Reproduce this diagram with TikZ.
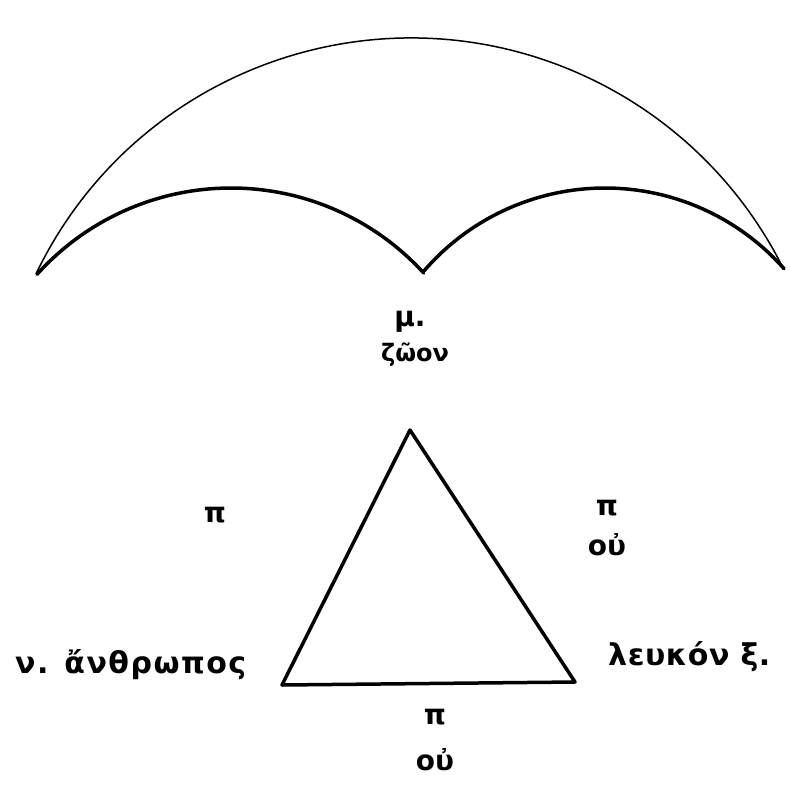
\documentclass[tikz,border=0pt]{standalone}
\usepackage{fontspec}
\setmainfont{DejaVu Sans}
\begin{document}
\begin{tikzpicture}[x=1pt,y=1pt,
  lbl/.style={inner sep=0pt,font=\bfseries\fontsize{28}{32}\selectfont},
  spaced/.style={font=\bfseries\fontsize{30}{34}\selectfont\addfontfeature{LetterSpace=#1}},
  thin arc/.style={line width=1.5pt},
  thick line/.style={line width=3.5pt,line join=round,line cap=round}]
\useasboundingbox (0,0) rectangle (790,-785);
% outer arc
\draw[thin arc] ([shift={(411,-454)}]154.4:416) arc[start angle=154.4,end angle=26.5,radius=416];
% inner arcs
\draw[thick line] ([shift={(231,-449)}]138:261) arc[start angle=138,end angle=42.4,radius=261];
\draw[thick line] ([shift={(605,-427)}]139.3:239) arc[start angle=139.3,end angle=41.5,radius=239];
% triangle
\coordinate (A) at (410,-430);
\coordinate (B) at (282,-685);
\coordinate (C) at (575,-682);
\draw[thick line] (A) -- (B) -- (C) -- cycle;
% labels
\node[lbl] (mu) at (410,-322) {μ.};
\node[lbl,font=\bfseries\fontsize{24}{28}\selectfont] (zoon) at (415,-355) {ζῶον};
\node[lbl] (pil) at (215,-515) {π};
\node[lbl] (pir) at (607,-508) {π};
\node[lbl] (our) at (607,-545) {οὐ};
\node[lbl,anchor=west,spaced=5] (anth) at (15,-665) {ν. ἄνθρωπος};
\node[lbl,anchor=west,spaced=2] (leuk) at (608,-657) {λευκόν ξ.};
\node[lbl] (pib) at (435,-717) {π};
\node[lbl] (oub) at (435,-760) {οὐ};
\end{tikzpicture}
\end{document}
